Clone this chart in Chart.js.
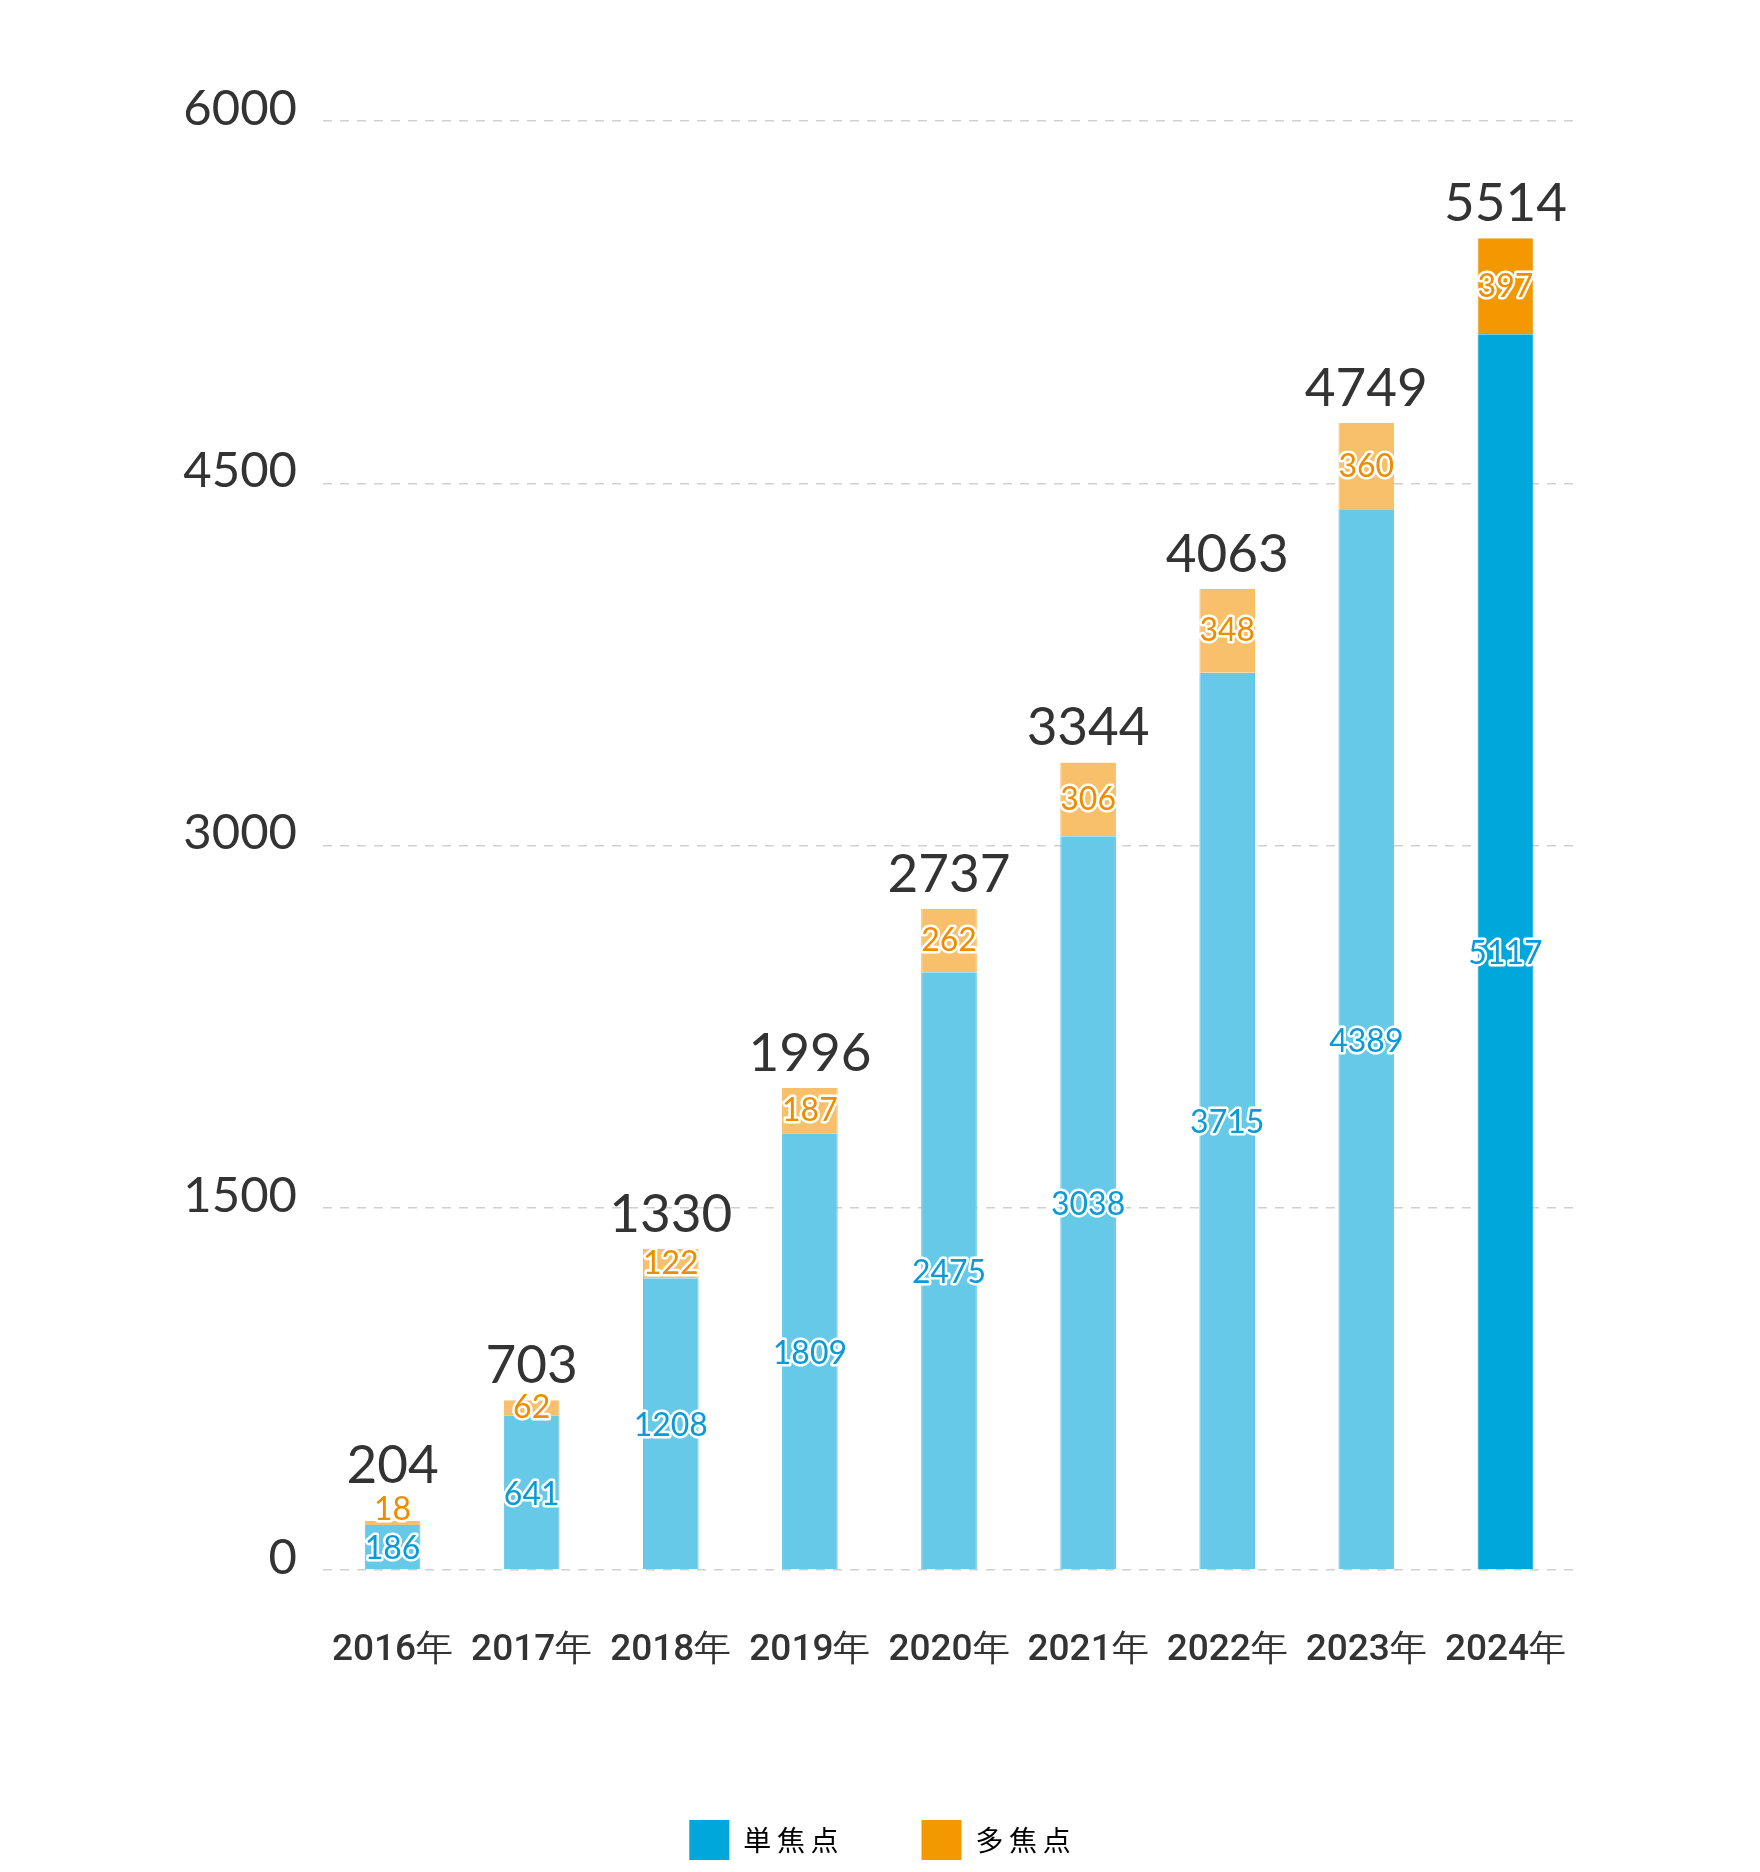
<!DOCTYPE html>
<html>
<head>
<meta charset="utf-8">
<title>単焦点・多焦点</title>
<script src="https://cdn.jsdelivr.net/npm/chart.js@4.4.1/dist/chart.umd.min.js"></script>
<style>
  html, body { margin: 0; padding: 0; background: #fff; }
  #wrap { width: 1760px; height: 1872px; }
</style>
</head>
<body>
<div id="wrap"><canvas id="focusChart" width="1760" height="1872"></canvas></div>
<script>
// data
const years = ["2016年", "2017年", "2018年", "2019年", "2020年", "2021年", "2022年", "2023年", "2024年"];
const singleFocus = [186, 641, 1208, 1809, 2475, 3038, 3715, 4389, 5117];
const multiFocus = [18, 62, 122, 187, 262, 306, 348, 360, 397];
const seriesNames = ["単焦点", "多焦点"];
const yTicks = [0, 1500, 3000, 4500, 6000];

// colours: last year is highlighted in the full colour
const blueDark = "#00a7db", blueLight = "#66c9e8";
const orangeDark = "#f39800", orangeLight = "#f8c06a";
const last = years.length - 1;
const pick = (dark, light) => c => (c.dataIndex === last ? dark : light);

function outlined(ctx, text, x, y, fill) {
  ctx.lineWidth = 5;
  ctx.strokeStyle = "#fff";
  ctx.strokeText(text, x, y);
  ctx.fillStyle = fill;
  ctx.fillText(text, x, y);
}

// value labels inside the segments + totals above the bars
const barLabels = {
  id: "barLabels",
  afterDraw(chart) {
    const ctx = chart.ctx;
    const m0 = chart.getDatasetMeta(0);
    const m1 = chart.getDatasetMeta(1);
    ctx.save();
    ctx.textAlign = "center";
    ctx.lineJoin = "round";
    years.forEach((yr, i) => {
      const a = m0.data[i], b = m1.data[i];
      ctx.font = "32px Lato";
      ctx.textBaseline = "middle";
      outlined(ctx, String(singleFocus[i]), a.x, (a.y + a.base) / 2 + 2, "#0a9ad8");
      const small = b.base - b.y < 12;
      const my = small ? b.y - 11 : (b.y + b.base) / 2;
      outlined(ctx, String(multiFocus[i]), b.x, my, "#f08c00");

      ctx.font = "53px Lato";
      ctx.textBaseline = "alphabetic";
      ctx.fillStyle = "#333";
      ctx.fillText(String(singleFocus[i] + multiFocus[i]), b.x, b.y - (small ? 38 : 17));
    });
    ctx.restore();
  }
};

const ctx = document.getElementById("focusChart").getContext("2d");

const focusChart = new Chart(ctx, {
  type: "bar",
  data: {
    labels: years,
    datasets: [
      {
        label: seriesNames[0],
        data: singleFocus,
        backgroundColor: pick(blueDark, blueLight),
        borderColor: pick(blueDark, "#58c0e6"),
        borderWidth: { left: 1, right: 1, top: 0, bottom: 0 },
        categoryPercentage: 1,
        barPercentage: 0.4
      },
      {
        label: seriesNames[1],
        data: multiFocus,
        backgroundColor: pick(orangeDark, orangeLight),
        borderColor: pick(orangeDark, "#f6b65a"),
        borderWidth: { left: 1, right: 1, top: 0, bottom: 0 },
        categoryPercentage: 1,
        barPercentage: 0.4
      }
    ]
  },
  options: {
    responsive: false,
    animation: false,
    devicePixelRatio: 1,
    layout: {
      padding: { top: 121, right: 0, bottom: 2, left: 0 }
    },
    scales: {
      x: {
        stacked: true,
        grid: { display: false },
        border: { display: false },
        ticks: {
          color: "#333",
          font: { family: "Roboto", size: 37, weight: "500" },
          padding: 51,
          maxRotation: 0
        },
        afterFit: s => { s.height = 167; }
      },
      y: {
        stacked: true,
        min: 0,
        max: 6000,
        z: 1,
        afterBuildTicks: s => { s.ticks = yTicks.map(v => ({ value: v })); },
        grid: {
          color: "rgba(150,150,150,0.45)",
          lineWidth: 1.5,
          drawTicks: false
        },
        border: { display: false, dash: [9, 8] },
        ticks: {
          color: "#333",
          font: { family: "Lato", size: 49 },
          padding: 26,
          labelOffset: -12,
          callback: v => String(v)
        },
        afterFit: s => { s.width = 323; }
      },
      // empty right-hand axis: keeps the plot clear of the right edge
      yRight: {
        position: "right",
        grid: { display: false, drawTicks: false },
        border: { display: false },
        ticks: { display: false },
        afterFit: s => { s.width = 185; }
      }
    },
    plugins: {
      tooltip: { enabled: false },
      legend: {
        position: "bottom",
        labels: {
          boxWidth: 40,
          boxHeight: 40,
          padding: 83,
          color: "#555",
          font: { family: "Noto Sans CJK JP", size: 28 },
          generateLabels: () => [
            { text: "単\u2009焦\u2009点", fillStyle: blueDark, strokeStyle: blueDark, lineWidth: 0, datasetIndex: 0 },
            { text: "多\u2009焦\u2009点", fillStyle: orangeDark, strokeStyle: orangeDark, lineWidth: 0, datasetIndex: 1 }
          ]
        }
      }
    }
  },
  plugins: [barLabels]
});
</script>
</body>
</html>
